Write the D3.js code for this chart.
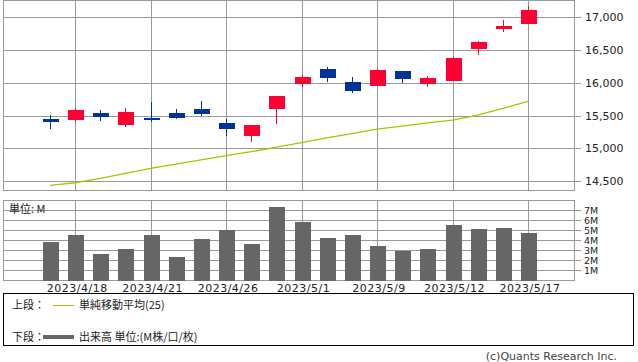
<!DOCTYPE html>
<html>
<head>
<meta charset="utf-8">
<script src="https://cdn.jsdelivr.net/npm/d3@7"></script>
<style>
  body { margin: 0; background: #fff; }
  svg text { font-family: "DejaVu Sans", sans-serif; font-size: 11px; fill: #222; }
  .jp { font-family: "Noto Sans CJK JP", sans-serif; }
</style>
</head>
<body>
<svg id="chart" width="638" height="362"></svg>
<script>
// daily candles, 2023/4/17 - 2023/5/17
var dates = ["2023/4/17","2023/4/18","2023/4/19","2023/4/20","2023/4/21","2023/4/24","2023/4/25",
    "2023/4/26","2023/4/27","2023/4/28","2023/5/1","2023/5/2","2023/5/8","2023/5/9","2023/5/10",
    "2023/5/11","2023/5/12","2023/5/15","2023/5/16","2023/5/17"];
var opens  = [15447,15437,15539,15361,15468,15539,15600,15387,15193,15604,15985,16209,16011,15954,16178,15985,16030,16518,16822,16898];
var highs  = [15508,15620,15585,15620,15706,15600,15722,15447,15356,15798,16112,16244,16087,16209,16178,16102,16387,16635,16954,17172];
var lows   = [15300,15406,15422,15330,15406,15447,15498,15193,15102,15376,15939,16015,15843,15954,16000,15939,16030,16426,16776,16898];
var closes = [15406,15585,15483,15554,15452,15468,15528,15300,15356,15798,16087,16076,15878,16193,16061,16072,16376,16620,16863,17107];
var ma25   = [14438,14478,14545,14620,14697,14760,14825,14889,14950,15020,15087,15160,15225,15295,15340,15390,15432,15508,15610,15717];
var volumes = [3.8,4.5,2.6,3.1,4.5,2.3,4.1,5.0,3.6,7.3,5.8,4.2,4.5,3.4,2.9,3.1,5.5,5.1,5.2,4.7]; // M
var priceTicks = [14500,15000,15500,16000,16500,17000];
var volTicks = [1,2,3,4,5,6,7];
var labelDates = ["2023/4/18","2023/4/21","2023/4/26","2023/5/1","2023/5/9","2023/5/12","2023/5/17"];

var gridColor = "#999999";
var upColor = "#ff0033", downColor = "#003399";

var left = 3.5, right = 574.5;
var top1 = 0.5, bottom1 = 190.5;
var top2 = 200.5, bottom2 = 280.5;

var svg = d3.select("#chart");

var x = d3.scalePoint().domain(dates).range([left, right]).padding(1.85);
var y = d3.scaleLinear().domain([14360, 17251]).range([bottom1, top1]);
var yv = d3.scaleLinear().domain([0, 7.95]).range([bottom2, top2]);

function panelGrid(g, yScale, ticks, yTop, yBot) {
    g.append("g").selectAll("line").data(ticks).enter().append("line")
        .attr("x1", left).attr("x2", right + 6)
        .attr("y1", function(d) { return Math.round(yScale(d)) + 0.5; })
        .attr("y2", function(d) { return Math.round(yScale(d)) + 0.5; })
        .attr("stroke", gridColor);
    g.append("g").selectAll("line").data(labelDates).enter().append("line")
        .attr("x1", function(d) { return Math.round(x(d)) + 0.5; })
        .attr("x2", function(d) { return Math.round(x(d)) + 0.5; })
        .attr("y1", yTop).attr("y2", yBot)
        .attr("stroke", gridColor);
    g.append("rect")
        .attr("x", left).attr("y", yTop)
        .attr("width", right - left).attr("height", yBot - yTop)
        .attr("fill", "none").attr("stroke", gridColor);
}

var g1 = svg.append("g").attr("shape-rendering", "crispEdges");
panelGrid(g1, y, priceTicks, top1, bottom1);
g1.selectAll("text.pt").data(priceTicks).enter().append("text")
    .attr("x", 585).attr("y", function(d) { return y(d) + 4; })
    .text(d3.format(","));

// moving average
svg.append("path")
    .datum(ma25)
    .attr("fill", "none")
    .attr("stroke", "#99cc00")
    .attr("stroke-width", 1.3)
    .attr("d", d3.line()
        .x(function(d, i) { return x(dates[i]); })
        .y(function(d) { return y(d); }));

// candles
var candles = svg.append("g").attr("shape-rendering", "crispEdges")
    .selectAll("g").data(dates).enter().append("g");
candles.append("line")
    .attr("x1", function(d) { return Math.round(x(d)) + 0.5; })
    .attr("x2", function(d) { return Math.round(x(d)) + 0.5; })
    .attr("y1", function(d, i) { return y(highs[i]); })
    .attr("y2", function(d, i) { return y(lows[i]); })
    .attr("stroke", function(d, i) { return closes[i] >= opens[i] ? upColor : downColor; })
    .attr("stroke-width", 1.3);
candles.append("rect")
    .attr("x", function(d) { return Math.round(x(d)) - 7; })
    .attr("width", 16)
    .attr("y", function(d, i) { return y(Math.max(opens[i], closes[i])); })
    .attr("height", function(d, i) { return Math.max(2, Math.abs(y(opens[i]) - y(closes[i]))); })
    .attr("fill", function(d, i) { return closes[i] >= opens[i] ? upColor : downColor; });

// volume panel
var g2 = svg.append("g").attr("shape-rendering", "crispEdges");
panelGrid(g2, yv, volTicks, top2, bottom2);
g2.selectAll("rect.bar").data(volumes).enter().append("rect")
    .attr("class", "bar")
    .attr("x", function(d, i) { return Math.round(x(dates[i])) - 7; })
    .attr("width", 16)
    .attr("y", function(d) { return yv(d); })
    .attr("height", function(d) { return bottom2 - yv(d); })
    .attr("fill", "#666666");
svg.selectAll("text.vt").data(volTicks).enter().append("text")
    .attr("x", 584).attr("y", function(d) { return yv(d) + 3.5; })
    .style("font-size", "9.5px")
    .text(function(d) { return d + "M"; });
svg.append("text").attr("class", "jp")
    .attr("x", 9).attr("y", 213)
    .text("単位: M");

svg.selectAll("text.xl").data(labelDates).enter().append("text")
    .attr("x", function(d) { return x(d) + 2; })
    .attr("y", 292)
    .attr("text-anchor", "middle")
    .attr("letter-spacing", "0.5px")
    .text(function(d) { return d; });

// legend
var lg = svg.append("g");
lg.append("rect").attr("x", 3.5).attr("y", 293.5).attr("width", 630).attr("height", 52)
    .attr("fill", "none").attr("stroke", "#000").attr("shape-rendering", "crispEdges");
lg.append("text").attr("class", "jp").attr("x", 12).attr("y", 309).text("上段：");
lg.append("line").attr("x1", 53).attr("x2", 74).attr("y1", 305.5).attr("y2", 305.5)
    .attr("stroke", "#99cc00").attr("stroke-width", 1);
lg.append("text").attr("class", "jp").attr("x", 79).attr("y", 309).text("単純移動平均(25)");
lg.append("text").attr("class", "jp").attr("x", 12).attr("y", 341).text("下段：");
lg.append("line").attr("x1", 43).attr("x2", 74).attr("y1", 337).attr("y2", 337)
    .attr("stroke", "#666666").attr("stroke-width", 4);
lg.append("text").attr("class", "jp").attr("x", 79).attr("y", 341).text("出来高 単位:(M株/口/枚)");

svg.append("text").attr("x", 617).attr("y", 360).attr("text-anchor", "end")
    .style("fill", "#444").text("(c)Quants Research Inc.");
</script>
</body>
</html>
